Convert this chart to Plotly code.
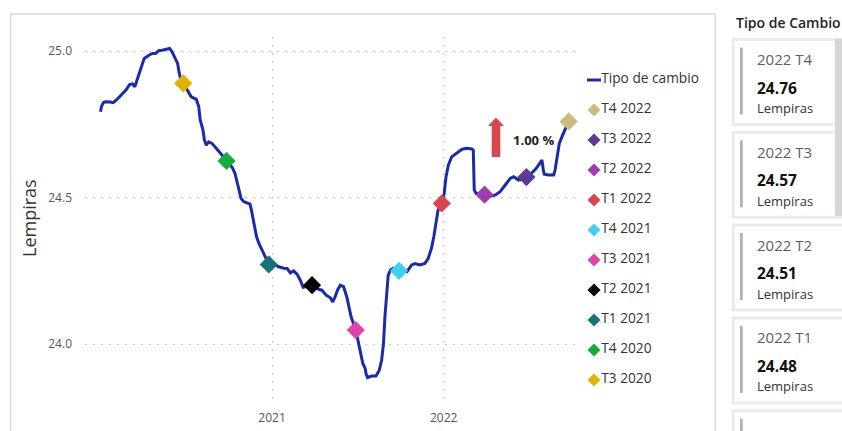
import plotly.graph_objects as go

# ---------------- data ----------------
series_name = "Tipo de cambio"

line_dates = [
    "2020-01-02", "2020-01-04", "2020-01-08", "2020-01-12", "2020-01-23", "2020-01-29",
    "2020-02-06", "2020-02-17", "2020-02-26", "2020-03-04", "2020-03-10", "2020-03-15",
    "2020-03-20", "2020-03-25", "2020-03-30", "2020-04-04", "2020-04-14", "2020-04-21",
    "2020-04-28", "2020-05-05", "2020-05-12", "2020-05-19", "2020-05-28", "2020-06-02",
    "2020-06-09", "2020-06-14", "2020-06-17", "2020-06-20", "2020-06-26", "2020-07-04",
    "2020-07-13", "2020-07-24", "2020-07-29", "2020-08-01", "2020-08-07", "2020-08-10",
    "2020-08-14", "2020-08-19", "2020-08-26", "2020-09-06", "2020-09-16", "2020-09-26",
    "2020-10-08", "2020-10-14", "2020-10-19", "2020-10-24", "2020-10-27", "2020-11-02",
    "2020-11-09", "2020-11-15", "2020-11-18", "2020-11-22", "2020-11-25", "2020-11-29",
    "2020-12-04", "2020-12-09", "2020-12-14", "2020-12-20", "2020-12-25", "2021-01-08",
    "2021-01-15", "2021-01-26", "2021-02-02", "2021-02-09", "2021-02-16", "2021-02-23",
    "2021-03-02", "2021-03-08", "2021-03-16", "2021-03-27", "2021-04-10", "2021-04-17",
    "2021-04-26", "2021-05-05", "2021-05-10", "2021-05-15", "2021-05-20", "2021-05-26",
    "2021-06-02", "2021-06-09", "2021-06-15", "2021-06-18", "2021-06-28", "2021-07-03",
    "2021-07-06", "2021-07-10", "2021-07-13", "2021-07-18", "2021-07-20", "2021-07-23",
    "2021-08-01", "2021-08-10", "2021-08-17", "2021-08-22", "2021-08-26", "2021-08-29",
    "2021-09-02", "2021-09-05", "2021-09-10", "2021-09-16", "2021-09-28", "2021-10-15",
    "2021-10-25", "2021-11-01", "2021-11-11", "2021-11-22", "2021-11-29", "2021-12-06",
    "2021-12-11", "2021-12-14", "2021-12-17", "2021-12-20", "2021-12-28", "2022-01-02",
    "2022-01-06", "2022-01-11", "2022-01-18", "2022-01-29", "2022-02-09", "2022-02-19",
    "2022-03-02", "2022-03-05", "2022-03-07", "2022-03-11", "2022-03-20", "2022-03-29",
    "2022-04-10", "2022-04-21", "2022-05-01", "2022-05-12", "2022-05-23", "2022-05-30",
    "2022-06-09", "2022-06-26", "2022-07-08", "2022-07-17", "2022-07-24", "2022-07-29",
    "2022-08-01", "2022-08-03", "2022-08-12", "2022-08-23", "2022-08-26", "2022-08-30",
    "2022-09-04", "2022-09-11", "2022-09-16", "2022-09-20", "2022-09-24",
]
line_values = [
    24.793, 24.810, 24.824, 24.827, 24.826, 24.824,
    24.835, 24.853, 24.869, 24.886, 24.888, 24.878,
    24.901, 24.927, 24.952, 24.975, 24.986, 24.992,
    24.992, 25.001, 25.003, 25.006, 25.009, 24.998,
    24.975, 24.958, 24.929, 24.907, 24.890, 24.867,
    24.844, 24.835, 24.810, 24.765, 24.730, 24.696,
    24.679, 24.690, 24.685, 24.665, 24.645, 24.625,
    24.603, 24.583, 24.548, 24.520, 24.497, 24.486,
    24.482, 24.478, 24.457, 24.423, 24.389, 24.366,
    24.344, 24.327, 24.310, 24.292, 24.272, 24.270,
    24.264, 24.259, 24.258, 24.243, 24.250, 24.239,
    24.218, 24.194, 24.196, 24.201, 24.187, 24.184,
    24.167, 24.158, 24.144, 24.161, 24.184, 24.201,
    24.196, 24.161, 24.116, 24.093, 24.048, 24.008,
    23.980, 23.957, 23.934, 23.917, 23.898, 23.886,
    23.891, 23.891, 23.911, 23.945, 24.002, 24.093,
    24.184, 24.235, 24.253, 24.258, 24.250, 24.247,
    24.270, 24.275, 24.270, 24.275, 24.292, 24.327,
    24.366, 24.400, 24.440, 24.457, 24.480, 24.514,
    24.571, 24.611, 24.639, 24.653, 24.665, 24.668,
    24.666, 24.662, 24.526, 24.514, 24.514, 24.510,
    24.505, 24.509, 24.520, 24.543, 24.566, 24.571,
    24.560, 24.570, 24.585, 24.600, 24.619, 24.628,
    24.594, 24.580, 24.577, 24.577, 24.594, 24.639,
    24.685, 24.713, 24.730, 24.742, 24.760,
]

quarter_labels = ["T3 2020", "T4 2020", "T1 2021", "T2 2021", "T3 2021",
                  "T4 2021", "T1 2022", "T2 2022", "T3 2022", "T4 2022"]
quarter_dates = ["2020-06-26", "2020-09-26", "2020-12-25", "2021-03-27", "2021-06-28",
                 "2021-09-28", "2021-12-28", "2022-03-29", "2022-06-26", "2022-09-24"]
quarter_values = [24.890, 24.625, 24.272, 24.201, 24.048,
                  24.250, 24.480, 24.510, 24.570, 24.760]
quarter_colors = ["#DFB300", "#1AAB40", "#197278", "#000000", "#E044A7",
                  "#40D0EC", "#DA4550", "#9E3FAF", "#5B3C95", "#CBBC82"]

x_tick_vals = ["2021-01-01", "2022-01-01"]
x_tick_text = ["2021", "2022"]
y_tick_vals = [24.0, 24.5, 25.0]
x_range = ["2019-11-30", "2022-10-18"]
y_range = [23.799, 25.048]

y_title = "Lempiras"
change_text = "1.00 %"

panel_title = "Tipo de Cambio"
card_labels = ["2022 T4", "2022 T3", "2022 T2", "2022 T1"]
card_values = [24.76, 24.57, 24.51, 24.48]
card_unit = "Lempiras"

# ---------------- styling / layout helpers ----------------
FONT = "Open Sans"
LINE_COLOR = "#1B2AA6"
TEXT_DARK = "#252423"
AXIS_TEXT = "#555555"
GRID = "#c4c4c4"

W, H = 842, 431
PL, PR, PT, PB = 85, 580, 37, 403          # plot area in px
PW, PH = W - PL, PB - PT                    # paper size in px


def px(x):
    return (x - PL) / PW


def py(y):
    return (PB - y) / PH


fig = go.Figure()

# main line
fig.add_trace(go.Scatter(
    x=line_dates, y=line_values, mode="lines", name=series_name,
    line=dict(color=LINE_COLOR, width=3), showlegend=False,
    xaxis="x", yaxis="y",
))

# quarter markers
for lab, d, v, c in zip(quarter_labels, quarter_dates, quarter_values, quarter_colors):
    fig.add_trace(go.Scatter(
        x=[d], y=[v], mode="markers", name=lab,
        marker=dict(symbol="diamond", size=14, color=c, line=dict(width=0)),
        showlegend=False, xaxis="x", yaxis="y",
    ))

# legend drawn on its own small axis
leg_labels = quarter_labels[::-1]
leg_colors = quarter_colors[::-1]
fig.add_trace(go.Scatter(
    x=[0], y=[0], mode="markers+text", text=[series_name],
    textposition="middle right", cliponaxis=False,
    textfont=dict(family=FONT, size=13.7, color="#333333"),
    marker=dict(symbol="line-ew", size=10, line=dict(width=3, color=LINE_COLOR)),
    showlegend=False, xaxis="x2", yaxis="y2", hoverinfo="skip",
))
fig.add_trace(go.Scatter(
    x=[0] * len(leg_labels), y=list(range(1, len(leg_labels) + 1)),
    mode="markers+text", text=leg_labels,
    textposition="middle right", cliponaxis=False,
    textfont=dict(family=FONT, size=13.7, color="#333333"),
    marker=dict(symbol="diamond", size=10, color=leg_colors, line=dict(width=0)),
    showlegend=False, xaxis="x2", yaxis="y2", hoverinfo="skip",
))

shapes = []
annotations = []

# outer chart frame
shapes.append(dict(type="rect", xref="paper", yref="paper",
                   x0=px(10.7), x1=px(715.3), y0=py(445), y1=py(14),
                   line=dict(color="#d9d9d9", width=1.5), fillcolor="rgba(0,0,0,0)",
                   layer="below"))

# red up arrow
ax = [(496, 117.5), (504, 126), (500.3, 126), (500.3, 157), (491.7, 157), (491.7, 126), (488, 126)]
path = "M " + " L ".join(f"{px(a):.5f},{py(b):.5f}" for a, b in ax) + " Z"
shapes.append(dict(type="path", xref="paper", yref="paper", path=path,
                   fillcolor="#DA4650", line=dict(width=0)))
annotations.append(dict(text=f"<b>{change_text}</b>", xref="paper", yref="paper",
                        x=px(511), y=py(140), xanchor="left", yanchor="middle",
                        showarrow=False, font=dict(family=FONT, size=13, color=TEXT_DARK)))

# y axis title
annotations.append(dict(text=y_title, xref="paper", yref="paper",
                        x=px(29), y=py(218), xanchor="center", yanchor="middle",
                        textangle=-90, showarrow=False,
                        font=dict(family=FONT, size=18, color="#333333")))

# right panel: title + cards
annotations.append(dict(text=panel_title, xref="paper", yref="paper",
                        x=px(734), y=py(23), xanchor="left", yanchor="middle",
                        showarrow=False,
                        font=dict(family=FONT, size=14, color=TEXT_DARK, weight=600)))

card_tops = [39.5 + 92.8 * i for i in range(5)]
for i, top in enumerate(card_tops):
    shapes.append(dict(type="rect", xref="paper", yref="paper",
                       x0=px(733.2), x1=px(870), y0=py(top + 85), y1=py(top),
                       line=dict(color="#ebebeb", width=3), fillcolor="white"))
    shapes.append(dict(type="rect", xref="paper", yref="paper",
                       x0=px(740), x1=px(742.7), y0=py(top + 75), y1=py(top + 8),
                       line=dict(width=0), fillcolor="#b3b0ad"))
for top, lab, val in zip(card_tops, card_labels, card_values):
    annotations.append(dict(text=lab, xref="paper", yref="paper",
                            x=px(755), y=py(top + 19.5), xanchor="left", yanchor="middle",
                            showarrow=False, font=dict(family=FONT, size=15, color="#605E5C")))
    annotations.append(dict(text=f"<b>{val:.2f}</b>", xref="paper", yref="paper",
                            x=px(755), y=py(top + 48), xanchor="left", yanchor="middle",
                            showarrow=False, font=dict(family=FONT, size=15.5, color="#111111")))
    annotations.append(dict(text=card_unit, xref="paper", yref="paper",
                            x=px(755), y=py(top + 68.5), xanchor="left", yanchor="middle",
                            showarrow=False, font=dict(family=FONT, size=13, color="#333333")))

# scrollbar
shapes.append(dict(type="rect", xref="paper", yref="paper",
                   x0=px(835), x1=px(843), y0=py(216), y1=py(39),
                   line=dict(width=0), fillcolor="#d6d6d6"))

fig.update_layout(
    width=W, height=H,
    margin=dict(l=PL, r=0, t=PT, b=H - PB, pad=0),
    paper_bgcolor="white", plot_bgcolor="white",
    showlegend=False, hovermode=False,
    font=dict(family=FONT, color=AXIS_TEXT),
    xaxis=dict(
        domain=[0, px(PR)], type="date", range=x_range,
        tickvals=x_tick_vals, ticktext=x_tick_text,
        showgrid=True, gridcolor=GRID, gridwidth=1, griddash="2px,6px",
        zeroline=False, showline=False, ticks="", ticklabelstandoff=6,
        tickfont=dict(family=FONT, size=12, color=AXIS_TEXT), fixedrange=True,
    ),
    yaxis=dict(
        domain=[0, 1], range=y_range, tickvals=y_tick_vals, tickformat=".1f",
        showgrid=True, gridcolor=GRID, gridwidth=1, griddash="2px,6px",
        zeroline=False, showline=False, ticks="", ticklabelstandoff=12,
        tickfont=dict(family=FONT, size=12, color=AXIS_TEXT), fixedrange=True,
    ),
    xaxis2=dict(domain=[px(583), px(715)], range=[-11, 121], anchor="y2",
                visible=False, fixedrange=True),
    yaxis2=dict(domain=[0, 1], range=[10.7667, -1.4333], anchor="x2",
                visible=False, fixedrange=True),
    shapes=shapes,
    annotations=annotations,
)

fig.write_html(
    "out.html",
    config={"displayModeBar": False},
    post_script="document.body.style.margin='0';document.body.style.padding='0';"
                "document.body.style.overflow='hidden';",
)
